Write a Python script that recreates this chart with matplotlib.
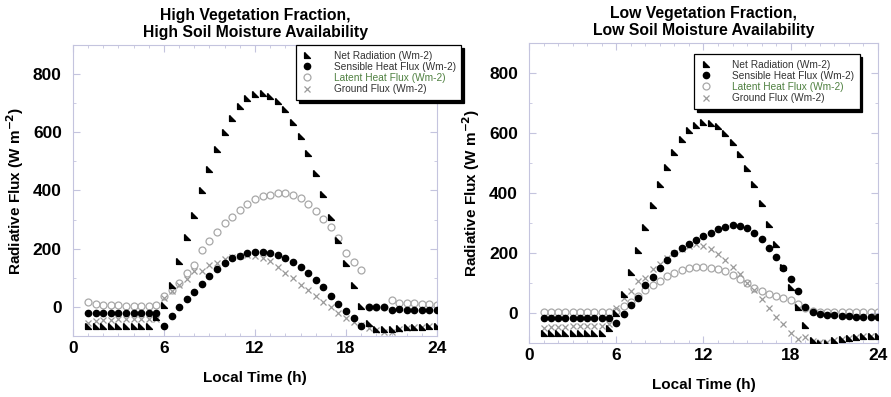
import numpy as np
import matplotlib
matplotlib.use("Agg")
import matplotlib.pyplot as plt
from matplotlib.ticker import MultipleLocator

plt.rcParams['font.family'] = ['Liberation Sans', 'DejaVu Sans']

hours = [1.0, 1.5, 2.0, 2.5, 3.0, 3.5, 4.0, 4.5, 5.0, 5.5, 6.0, 6.5, 7.0, 7.5,
         8.0, 8.5, 9.0, 9.5, 10.0, 10.5, 11.0, 11.5, 12.0, 12.5, 13.0, 13.5,
         14.0, 14.5, 15.0, 15.5, 16.0, 16.5, 17.0, 17.5, 18.0, 18.5, 19.0, 19.5,
         20.0, 20.5, 21.0, 21.5, 22.0, 22.5, 23.0, 23.5, 24.0]

# high vegetation / high soil moisture
hi_net = [-66, -65, -65, -65, -65, -65, -65, -65, -65, -35, 5, 75, 156, 239,
          317, 401, 475, 544, 602, 648, 691, 717, 733, 734, 725, 708,
          679, 637, 587, 530, 461, 389, 309, 229, 151, 76, 3, -54,
          -77, -77, -75, -72, -70, -69, -68, -67, -66]
hi_sens = [-20, -20, -20, -20, -20, -20, -20, -20, -20, -20, -64, -30, -1, 26,
           51, 79, 105, 130, 151, 168, 176, 184, 187, 187, 185, 179,
           168, 153, 136, 116, 91, 67, 38, 10, -14, -39, -65, -1,
           0, 0, -10, -8, -10, -11, -11, -12, -12]
hi_lat = [18, 10, 7, 6, 5, 4, 4, 3, 3, 6, 36, 57, 82, 118,
          145, 197, 225, 258, 287, 310, 333, 355, 370, 380, 386, 390,
          390, 385, 375, 355, 330, 303, 273, 237, 185, 153, 126, 0,
          0, 0, 24, 14, 12, 12, 10, 9, 8]
hi_gnd = [-55, -50, -45, -44, -43, -42, -42, -41, -41, -40, 30, 56, 76, 95,
          122, 122, 145, 150, 164, 171, 176, 178, 176, 168, 156, 137,
          118, 99, 76, 59, 36, 18, -1, -20, -38, -52, -63, -72,
          -80, -85, -88, -75, -72, -70, -68, -67, -66]

# low vegetation / low soil moisture
lo_net = [-68, -68, -68, -68, -68, -68, -68, -68, -68, -49, 1, 64, 138, 209,
          287, 360, 429, 488, 537, 581, 610, 627, 638, 634, 622, 601,
          570, 531, 484, 431, 368, 298, 229, 154, 87, 20, -41, -90,
          -100, -99, -91, -86, -82, -80, -78, -77, -76]
lo_sens = [-18, -18, -18, -18, -18, -18, -18, -18, -18, -18, -32, -4, 26, 51,
           92, 121, 151, 176, 199, 218, 231, 243, 257, 268, 279, 288,
           293, 290, 282, 268, 246, 218, 187, 151, 112, 73, 20, 3,
           -4, -7, -8, -10, -11, -12, -12, -13, -14]
lo_lat = [3, 3, 3, 3, 3, 3, 3, 3, 3, 3, 8, 22, 38, 58,
          78, 93, 108, 122, 135, 145, 150, 152, 152, 151, 147, 140,
          128, 115, 100, 85, 72, 63, 56, 50, 43, 30, 18, 8,
          4, 3, 3, 3, 3, 3, 3, 3, 3]
lo_gnd = [-50, -48, -46, -45, -44, -44, -43, -43, -42, -38, 18, 49, 73, 107,
          118, 146, 165, 184, 200, 212, 223, 230, 223, 212, 196, 176,
          153, 129, 101, 76, 46, 18, -12, -38, -66, -88, -80, -92,
          -97, -97, -90, -86, -82, -80, -78, -77, -76]

labels = ['Net Radiation (Wm-2)', 'Sensible Heat Flux (Wm-2)',
          'Latent Heat Flux (Wm-2)', 'Ground Flux (Wm-2)']
label_colors = ['#333333', '#333333', '#4f8040', '#333333']

tri = [(-1, 1), (-1, -1), (1, -1), (-1, 1)]
frame_col = '#c4c4de'

fig = plt.figure(figsize=(8.91, 3.97), dpi=100)
ax1 = fig.add_axes([0.0819, 0.1537, 0.4086, 0.733])
ax2 = fig.add_axes([0.5937, 0.1360, 0.3917, 0.7557])

panels = [
    (ax1, hi_net, hi_sens, hi_lat, hi_gnd,
     'High Vegetation Fraction,\nHigh Soil Moisture Availability', (0.332, 0.8866)),
    (ax2, lo_net, lo_sens, lo_lat, lo_gnd,
     'Low Vegetation Fraction,\nLow Soil Moisture Availability', (0.779, 0.864)),
]

for ax, net, sens, lat, gnd, title, anchor in panels:
    ax.plot(hours, lat, ls='none', marker='o', ms=5, mfc='none', mec='#a8a8a8',
            mew=0.9, zorder=2, label=labels[2])
    ax.plot(hours, gnd, ls='none', marker='x', ms=5, color='#9a9a9a',
            mew=0.9, zorder=2, label=labels[3])
    ax.plot(hours, sens, ls='none', marker='o', ms=4.5, color='black',
            zorder=3, label=labels[1])
    ax.plot(hours, net, ls='none', marker=tri, ms=4.2, color='black',
            zorder=3, label=labels[0])

    ax.set_xlim(0, 24)
    ax.set_ylim(-100, 900)
    ax.set_xticks([0, 6, 12, 18, 24])
    ax.set_yticks([0, 200, 400, 600, 800])
    ax.xaxis.set_minor_locator(MultipleLocator(1))
    ax.yaxis.set_minor_locator(MultipleLocator(100))
    ax.tick_params(which='both', direction='in', top=True, right=True,
                   color=frame_col, labelsize=12.5)
    ax.tick_params(axis='y', pad=8)
    ax.tick_params(which='major', length=5)
    ax.tick_params(which='minor', length=2.5)
    for lab in ax.get_xticklabels() + ax.get_yticklabels():
        lab.set_fontweight('bold')
    for sp in ax.spines.values():
        sp.set_color(frame_col)

    ax.set_xlabel('Local Time (h)', fontsize=11, fontweight='bold', labelpad=11)
    ax.set_ylabel(r'Radiative Flux (W m$^{\mathbf{-2}}$)', fontsize=11,
                  fontweight='bold', labelpad=5)
    ax.set_title(title, fontsize=11.3, fontweight='bold', pad=6, linespacing=1.15)

    h, l = ax.get_legend_handles_labels()
    order = [3, 2, 0, 1]
    leg = ax.legend([h[i] for i in order], [l[i] for i in order],
                    loc='upper left', bbox_to_anchor=anchor,
                    bbox_transform=fig.transFigure, fontsize=7.3,
                    frameon=True, fancybox=False, edgecolor='black',
                    framealpha=1, borderpad=0.55, labelspacing=0.12,
                    handlelength=1.2, handletextpad=2.0, borderaxespad=0,
                    shadow={'color': 'black', 'alpha': 1, 'ox': 2, 'oy': -2})
    leg.get_frame().set_linewidth(0.9)
    leg.set_zorder(10)
    for txt, c in zip(leg.get_texts(), label_colors):
        txt.set_color(c)

fig.savefig('out.png', dpi=100)
